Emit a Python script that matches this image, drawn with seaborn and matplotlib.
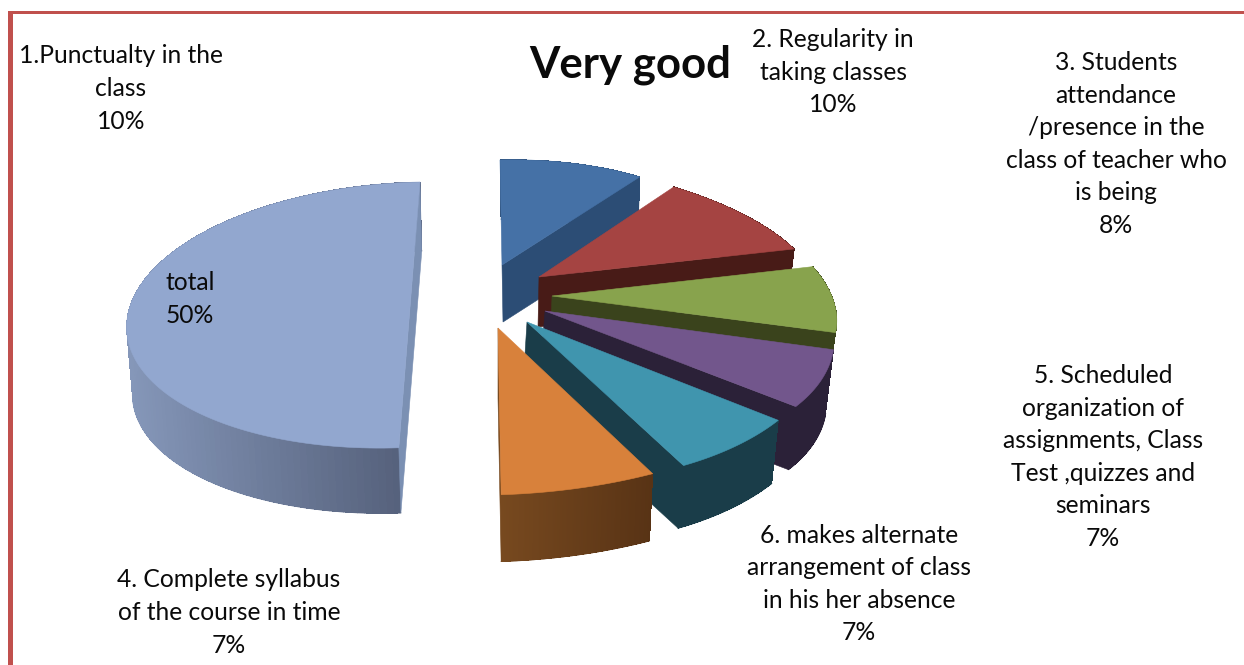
import numpy as np
import matplotlib
matplotlib.use("Agg")
import matplotlib.pyplot as plt
from matplotlib.patches import Rectangle
import seaborn as sns

title = "Very good"
categories = ["1.Punctualty in the\nclass", "2. Regularity in\ntaking classes",
              "3. Students\nattendance\n/presence in the\nclass of teacher who\nis being",
              "5. Scheduled\norganization of\nassignments, Class\nTest ,quizzes and\nseminars",
              "6. makes alternate\narrangement of class\nin his her absence",
              "4. Complete syllabus\nof the course in time", "total"]
values = [10, 10, 8, 7, 7, 7, 50]
label_xy = [(121, 88.5), (833, 72), (1116, 144), (1103, 457), (859, 584), (229, 612.5), (190, 299)]

top_colors = ["#4571a6", "#a54442", "#88a34d", "#72568c", "#4095ae", "#d8813b", "#92a7cf"]
wall_left = ["#2c4d75", "#481b17", "#3a431c", "#2b2138", "#1a3d49", "#77491f", "#8597b9"]
wall_right = ["#2c4d75", "#481b17", "#3a431c", "#2b2138", "#1a3d49", "#583315", "#525d77"]
cut_colors = ["#2c4d75", "#481b17", "#3a431c", "#2b2138", "#1a3d49", "#77491f", "#7b90b3"]

# perspective of each exploded slice: apex, unit-circle axes, extrusion and bottom scale
apex = [(502, 265), (539, 277), (552, 296), (545, 311), (527, 322), (498, 328), (405, 315)]
axis_u = [(235, -6), (279, 7), (283, 10), (287, 9), (299, 1), (353, -6), (278, -5)]
axis_v = [(-2, -105), (-38, -117), (-32, -131), (-37, -146), (-22, -161), (8, -167), (15, -133)]
extrude = [(1, 57), (-1, 50), (-2, 52), (-5, 64), (-4, 64), (0, 70), (2, 67)]
shrink = [0.98, 0.98, 0.98, 0.99, 0.99, 0.98, 0.986]

sns.set_theme(style="white")
plt.rcParams["font.family"] = ["Lato", "DejaVu Sans"]
palette = sns.color_palette(top_colors)

fig, ax = plt.subplots(figsize=(12.44, 6.65), dpi=100)
ax.set_position([0, 0, 1, 1])
ax.set_xlim(0, 1244)
ax.set_ylim(665, 0)
ax.axis("off")

frame = "#c0504d"
ax.add_patch(Rectangle((8, 11), 5, 654, color=frame, lw=0))
ax.add_patch(Rectangle((8, 11), 1236, 3, color=frame, lw=0))

shares = np.array(values, dtype=float) / np.sum(values) * 2 * np.pi
ends = np.cumsum(shares)
starts = ends - shares


def arc(i, th, lower=False):
    a, u, v = np.array(apex[i], float), np.array(axis_u[i], float), np.array(axis_v[i], float)
    pts = a + np.outer(np.sin(th), u) + np.outer(np.cos(th), v)
    if lower:
        pts = a + np.array(extrude[i], float) + shrink[i] * (np.outer(np.sin(th), u) + np.outer(np.cos(th), v))
    return pts


order = [6, 0, 1, 2, 3, 4, 5]
for i in order:
    z = 2 + order.index(i)
    th = np.linspace(starts[i], ends[i], 121)
    a0 = np.array(apex[i], float)
    a1 = a0 + np.array(extrude[i], float)
    up, lo = arc(i, th), arc(i, th, True)
    # outer wall with a left-to-right shading
    c0, c1 = np.array(matplotlib.colors.to_rgb(wall_left[i])), np.array(matplotlib.colors.to_rgb(wall_right[i]))
    xs = up[:, 0]
    for k in range(len(th) - 1):
        f = np.clip((0.5 * (xs[k] + xs[k + 1]) - xs.min()) / max(xs.max() - xs.min(), 1), 0, 1)
        col = c0 + (c1 - c0) * f
        quad = np.vstack([up[k], up[k + 1], lo[k + 1], lo[k]])
        ax.fill(quad[:, 0], quad[:, 1], color=col, lw=0, antialiased=False, zorder=z)
        ax.plot(lo[k:k + 2, 0], lo[k:k + 2, 1], color=col, lw=0.8, zorder=z)
    # cut face, then top face (the half slice closes on a straight chord)
    if i == 6:
        face = np.vstack([up[-1], lo[-1], lo[0], up[0]])
        top = up
    else:
        face = np.vstack([a0, up[-1], lo[-1], a1])
        top = np.vstack([a0, up])
    ax.fill(face[:, 0], face[:, 1], color=cut_colors[i], lw=0.4, zorder=z)
    ax.fill(top[:, 0], top[:, 1], color=palette[i], lw=0.4, zorder=z + 0.5)

for name, val, (x, y) in zip(categories, values, label_xy):
    ax.text(x, y, f"{name}\n{val}%", ha="center", va="center", fontsize=17.7, color="#0a0a0a",
            linespacing=1.505, zorder=20)
ax.text(630, 64.5, title, ha="center", va="center", fontsize=31.5, fontweight="bold", color="#0a0a0a", zorder=20)

fig.savefig("out.png", dpi=100, facecolor="white")
